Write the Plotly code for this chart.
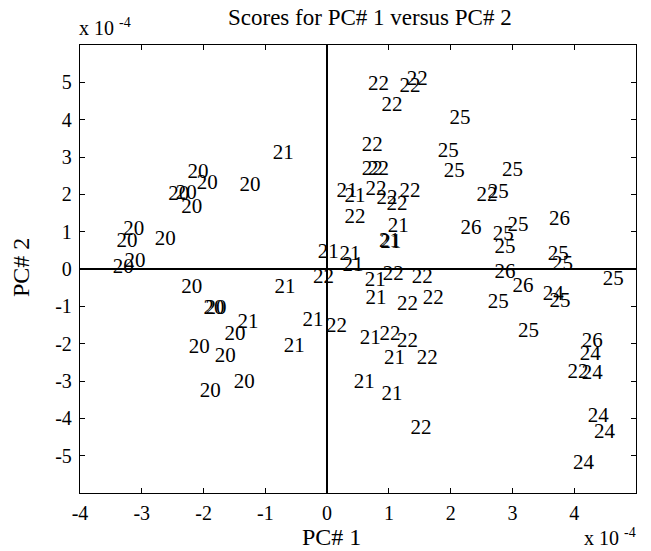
import plotly.graph_objects as go

# Scores (x 1e-4), grouped by label
g20_x = [-2.09, -1.94, -1.25, -2.40, -2.28, -2.19, -3.13, -3.24, -2.62, -3.11, -3.30, -2.19, -1.83, -1.80, -1.49, -2.07, -1.65, -1.34, -1.89]
g20_y = [2.57, 2.28, 2.22, 1.98, 2.01, 1.63, 1.04, 0.72, 0.78, 0.19, 0.03, -0.51, -1.07, -1.07, -1.77, -2.12, -2.36, -3.05, -3.29]

g21_x = [-0.71, -0.68, -1.28, -0.23, -0.53, 0.02, 0.37, 0.42, 0.32, 0.45, 1.15, 1.01, 1.03, 0.78, 0.79, 0.70, 1.09, 0.60, 1.05]
g21_y = [3.08, -0.51, -1.45, -1.39, -2.09, 0.43, 0.38, 0.08, 2.06, 1.93, 1.13, 0.74, 0.70, -0.32, -0.80, -1.88, -2.41, -3.05, -3.38]

g22_x = [-0.06, 0.83, 1.34, 1.46, 1.05, 0.73, 0.73, 0.83, 0.79, 0.97, 1.13, 1.34, 0.45, 2.59, 1.07, 1.54, 1.30, 1.72, 0.15, 1.02, 1.30, 1.62, 1.52, 4.06]
g22_y = [-0.24, 4.93, 4.88, 5.06, 4.37, 3.29, 2.65, 2.65, 2.12, 1.88, 1.71, 2.06, 1.37, 1.96, -0.16, -0.24, -0.96, -0.80, -1.55, -1.77, -1.96, -2.41, -4.29, -2.79]

g24_x = [3.66, 4.26, 4.29, 4.39, 4.49, 4.15]
g24_y = [-0.70, -2.30, -2.81, -3.96, -4.39, -5.22]

g25_x = [2.15, 1.96, 2.06, 3.00, 2.77, 3.09, 2.85, 2.88, 3.74, 3.81, 4.63, 2.77, 3.77, 3.26]
g25_y = [4.02, 3.13, 2.60, 2.63, 2.04, 1.15, 0.91, 0.56, 0.38, 0.11, -0.29, -0.91, -0.88, -1.69]

g26_x = [2.33, 3.76, 2.88, 3.17, 4.29]
g26_y = [1.07, 1.31, -0.11, -0.48, -1.96]

groups = [("20", g20_x, g20_y), ("21", g21_x, g21_y), ("22", g22_x, g22_y),
          ("24", g24_x, g24_y), ("25", g25_x, g25_y), ("26", g26_x, g26_y)]

x_ticks = [-4, -3, -2, -1, 0, 1, 2, 3, 4]
y_ticks = [-5, -4, -3, -2, -1, 0, 1, 2, 3, 4, 5]

FONT = "Liberation Serif"
W, H = 651, 551
ML, MR, MT, MB = 80, 15, 45, 58
PW, PH = W - ML - MR, H - MT - MB


def px(xp):
    return (xp - ML) / PW


def py(yp):
    return 1 - (yp - MT) / PH


fig = go.Figure()
for lab, xs, ys in groups:
    fig.add_trace(go.Scatter(
        x=xs, y=ys, mode="text", text=[lab] * len(xs),
        textposition="middle center",
        textfont=dict(family=FONT, size=21, color="black"),
        showlegend=False, hoverinfo="skip"))

axis_common = dict(showgrid=False, showline=True, linecolor="black", linewidth=1.3,
                   mirror="ticks", ticks="inside", ticklen=5, tickcolor="black",
                   zeroline=True, zerolinecolor="black", zerolinewidth=1.6,
                   tickfont=dict(family=FONT, size=20, color="black"))

fig.update_layout(
    width=W, height=H,
    margin=dict(l=ML, r=MR, t=MT, b=MB),
    plot_bgcolor="white", paper_bgcolor="white",
    xaxis=dict(range=[-4, 5], tickvals=x_ticks, ticktext=[str(v) for v in x_ticks],
               ticklabelstandoff=2, **axis_common),
    yaxis=dict(range=[-6, 6], tickvals=y_ticks, ticktext=[str(v) for v in y_ticks],
               ticklabelstandoff=3, **axis_common),
    annotations=[
        dict(text="Scores for PC# 1 versus PC# 2", x=px(370), y=py(17), xref="paper", yref="paper",
             showarrow=False, xanchor="center", yanchor="middle",
             font=dict(family=FONT, size=23, color="black")),
        dict(text="PC# 1", x=px(331), y=py(537), xref="paper", yref="paper", showarrow=False,
             xanchor="center", yanchor="middle", font=dict(family=FONT, size=24, color="black")),
        dict(text="PC# 2", x=px(21), y=py(268), xref="paper", yref="paper", showarrow=False,
             textangle=-90, xanchor="center", yanchor="middle",
             font=dict(family=FONT, size=24, color="black")),
        dict(text="x 10 <sup>-4</sup>", x=px(77), y=py(27), xref="paper", yref="paper", showarrow=False,
             xanchor="left", yanchor="middle", font=dict(family=FONT, size=20, color="black")),
        dict(text="x 10 <sup>-4</sup>", x=px(638), y=py(537), xref="paper", yref="paper", showarrow=False,
             xanchor="right", yanchor="middle", font=dict(family=FONT, size=20, color="black")),
    ],
)

fig.write_html("out.html")
